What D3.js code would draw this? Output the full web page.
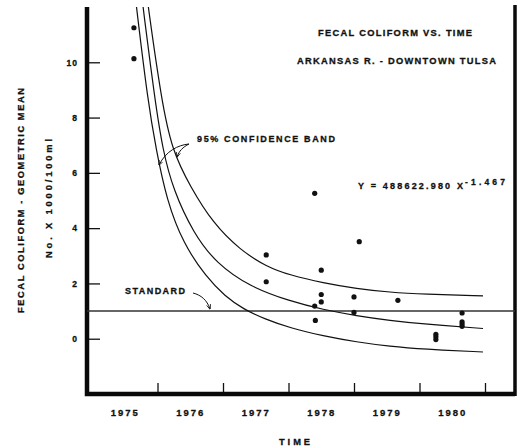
<!DOCTYPE html>
<html>
<head>
<meta charset="utf-8">
<script src="https://cdn.jsdelivr.net/npm/d3@7"></script>
<style>
  html, body { margin: 0; padding: 0; background: #fff; }
  svg { display: block; }
  text {
    font-family: "Liberation Sans", Arial, sans-serif;
    font-weight: bold;
    fill: #111;
    stroke: #111;
    stroke-width: 0.3px;
  }
</style>
</head>
<body>
<svg id="chart" width="519" height="446"></svg>
<script>
'use strict';

// values: [year, count x 1000 / 100ml]
const observations = [
  [1975.64, 11.25], [1975.64, 10.13],
  [1977.66, 3.03], [1977.66, 2.06],
  [1978.40, 5.26], [1978.40, 1.18], [1978.41, 0.66],
  [1978.50, 2.48], [1978.50, 1.60], [1978.50, 1.33],
  [1979.00, 1.51], [1979.00, 0.95], [1979.08, 3.51],
  [1979.67, 1.39],
  [1980.25, 0.16], [1980.25, 0.07], [1980.25, -0.03],
  [1980.65, 0.93], [1980.65, 0.61], [1980.65, 0.53], [1980.65, 0.45],
];

const fitCurve = [
  [1975.76, 12.4], [1975.78, 11.97], [1975.96, 8.64], [1976.08, 6.83],
  [1976.24, 5.38], [1976.55, 3.81], [1976.90, 2.72], [1977.41, 1.88],
  [1978.02, 1.36], [1978.53, 1.05], [1979.04, 0.83], [1979.55, 0.66],
  [1980.06, 0.53], [1980.97, 0.37],
];

const upperBand = [
  [1975.84, 12.4], [1975.86, 11.97], [1976.06, 8.64], [1976.22, 6.83],
  [1976.50, 5.50], [1976.85, 4.17], [1977.26, 3.21], [1977.67, 2.60],
  [1978.02, 2.30], [1978.53, 2.02], [1979.04, 1.81], [1979.55, 1.68],
  [1980.06, 1.61], [1980.97, 1.55],
];

const lowerBand = [
  [1975.66, 12.4], [1975.68, 11.97], [1975.85, 8.64], [1975.98, 6.83],
  [1976.14, 5.02], [1976.39, 3.45], [1976.75, 2.21], [1977.03, 1.54],
  [1977.31, 1.07], [1977.64, 0.71], [1978.02, 0.39], [1978.53, 0.10],
  [1979.04, -0.12], [1979.55, -0.28], [1980.06, -0.38], [1980.97, -0.48],
];

const standard = 1;
const yTicks = [0, 2, 4, 6, 8, 10];
const yearBounds = [1976, 1977, 1978, 1979, 1980, 1981];
const yearLabels = [1975, 1976, 1977, 1978, 1979, 1980];

// frame
const L = 87, R = 515, T = 7, B = 394;

const svg = d3.select('#chart');

const x = d3.scaleLinear().domain([1975, 1981]).range([92, 485]);
const y = d3.scaleLinear().domain([-2, 12]).range([B, T]);

const defs = svg.append('defs');

defs.append('clipPath')
  .attr('id', 'plot-clip')
  .append('rect')
  .attr('x', L)
  .attr('y', T)
  .attr('width', R - L)
  .attr('height', B - T);

defs.append('marker')
  .attr('id', 'head')
  .attr('viewBox', '0 0 10 10')
  .attr('refX', 9)
  .attr('refY', 5)
  .attr('markerWidth', 5)
  .attr('markerHeight', 5)
  .attr('orient', 'auto')
  .append('path')
  .attr('d', 'M0,1L10,5L0,9')
  .attr('fill', 'none')
  .attr('stroke', '#111')
  .attr('stroke-width', 1.6);

// y axis, ticks point inward
svg.append('g')
  .attr('transform', `translate(${L},0)`)
  .call(d3.axisLeft(y).tickValues(yTicks).tickSize(-13).tickPadding(9))
  .call((g) => g.select('.domain').remove())
  .call((g) => g.selectAll('line').attr('stroke', '#111').attr('stroke-width', 1.3))
  .call((g) => g.selectAll('text')
    .style('font-size', '8.5px')
    .style('letter-spacing', '1px')
    .attr('fill', '#111'));

// x axis: ticks at year bounds, labels in the middle of each year
svg.append('g')
  .attr('transform', `translate(0,${B})`)
  .call(d3.axisBottom(x).tickValues(yearBounds).tickSize(-11).tickFormat(''))
  .call((g) => g.select('.domain').remove())
  .call((g) => g.selectAll('line').attr('stroke', '#111').attr('stroke-width', 1.3));

svg.append('g')
  .attr('transform', `translate(0,${B})`)
  .call(d3.axisBottom(x)
    .tickValues(yearLabels.map((d) => d + 0.5))
    .tickSize(0)
    .tickPadding(15)
    .tickFormat((d) => String(Math.floor(d))))
  .call((g) => g.select('.domain').remove())
  .call((g) => g.selectAll('text')
    .style('font-size', '9.5px')
    .style('letter-spacing', '2px')
    .attr('fill', '#111'));

// frame lines
svg.append('path')
  .attr('d', `M${L},${T}V${B}H${R}`)
  .attr('fill', 'none')
  .attr('stroke', '#0a0a0a')
  .attr('stroke-width', 4.5);

svg.append('path')
  .attr('d', `M${R},5V${B + 2}`)
  .attr('fill', 'none')
  .attr('stroke', '#0a0a0a')
  .attr('stroke-width', 3.5);

// standard line
svg.append('line')
  .attr('x1', L)
  .attr('x2', R)
  .attr('y1', y(standard))
  .attr('y2', y(standard))
  .attr('stroke', '#333')
  .attr('stroke-width', 1.6);

// regression curve and confidence band
const line = d3.line()
  .x((d) => x(d[0]))
  .y((d) => y(d[1]))
  .curve(d3.curveBasis);

svg.append('g')
  .attr('clip-path', 'url(#plot-clip)')
  .selectAll('path')
  .data([lowerBand, fitCurve, upperBand])
  .join('path')
  .attr('d', line)
  .attr('fill', 'none')
  .attr('stroke', '#111')
  .attr('stroke-width', 1.2);

svg.append('g')
  .selectAll('circle')
  .data(observations)
  .join('circle')
  .attr('cx', (d) => x(d[0]))
  .attr('cy', (d) => y(d[1]))
  .attr('r', 2.6)
  .attr('fill', '#111');

// lettering, widths measured on the scan
const label = (px, py, str, width, size) =>
  svg.append('text')
    .attr('x', px)
    .attr('y', py)
    .attr('textLength', width)
    .attr('lengthAdjust', 'spacing')
    .style('font-size', size + 'px')
    .text(str);

label(318, 36, 'FECAL COLIFORM VS. TIME', 154, 9.3);
label(297, 64, 'ARKANSAS R. - DOWNTOWN TULSA', 199, 9.3);
label(197, 141.5, '95% CONFIDENCE BAND', 138, 9);
label(358, 188.5, 'Y = 488622.980 X', 105, 9);
label(465, 184.5, '-1.467', 40, 8.5);
label(125, 294, 'STANDARD', 60, 9);
label(279, 445, 'TIME', 31, 9.3);

// annotation arrows
const arrows = [
  'M189,144 C178,145 166,151 159,165',
  'M189,144 C183,147 179,151 177,157',
  'M193,293 C201,295 207,300 210,309',
];
svg.append('g')
  .selectAll('path')
  .data(arrows)
  .join('path')
  .attr('d', (d) => d)
  .attr('fill', 'none')
  .attr('stroke', '#111')
  .attr('stroke-width', 1)
  .attr('marker-end', 'url(#head)');

// axis titles
svg.append('text')
  .attr('transform', 'translate(24,200.5) rotate(-90)')
  .attr('text-anchor', 'middle')
  .attr('textLength', 225)
  .attr('lengthAdjust', 'spacing')
  .style('font-size', '9.3px')
  .text('FECAL COLIFORM - GEOMETRIC MEAN');

svg.append('text')
  .attr('transform', 'translate(51.5,198.5) rotate(-90)')
  .attr('text-anchor', 'middle')
  .attr('textLength', 119)
  .attr('lengthAdjust', 'spacing')
  .style('font-size', '9.3px')
  .text('No. X 1000/100ml');
</script>
</body>
</html>
